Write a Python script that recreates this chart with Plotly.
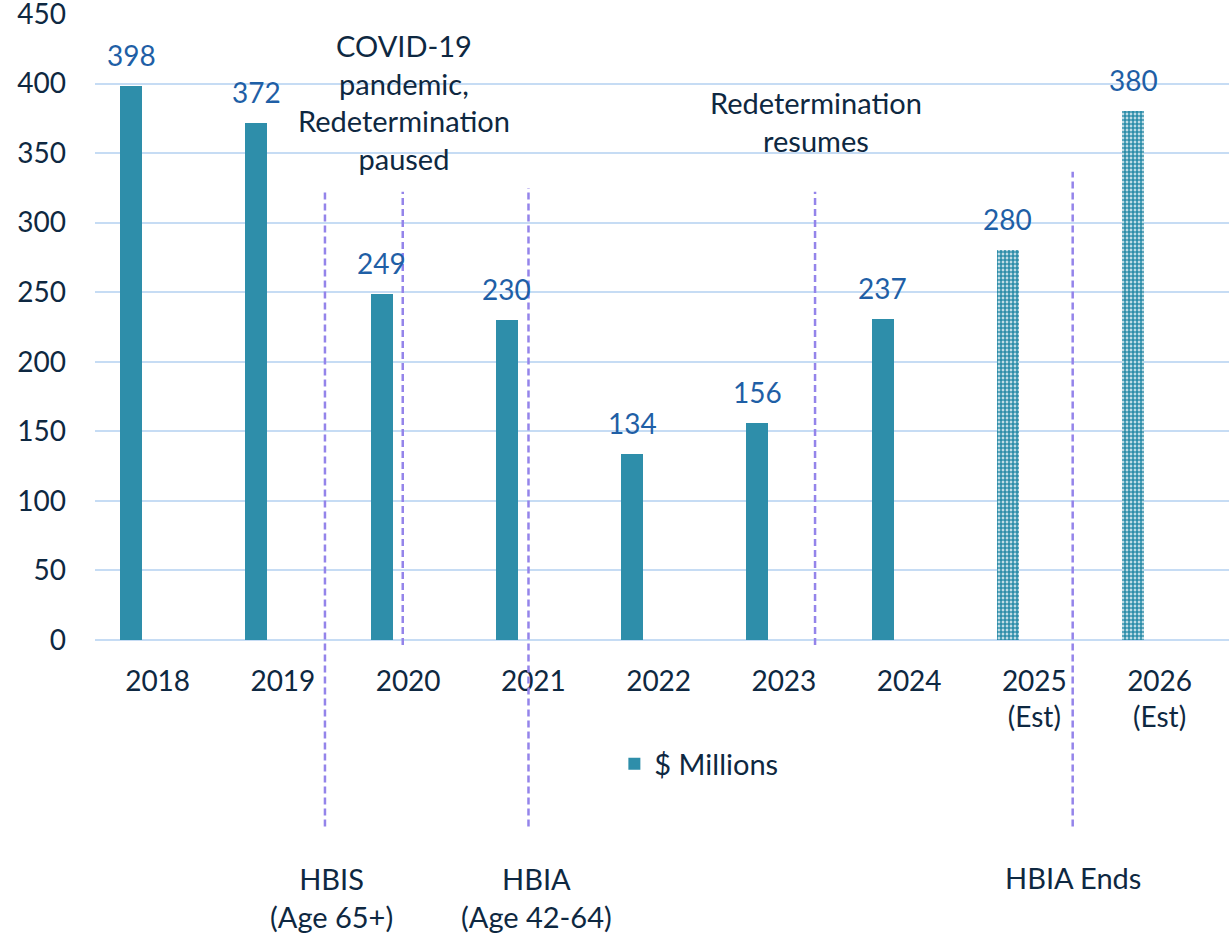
import plotly.graph_objects as go

# ---- data ----
categories = ["2018", "2019", "2020", "2021", "2022", "2023", "2024", "2025<br>(Est)", "2026<br>(Est)"]
values = [398, 372, 249, 230, 134, 156, 231, 280, 380]
value_labels = ["398", "372", "249", "230", "134", "156", "237", "280", "380"]
estimate_flags = [False, False, False, False, False, False, False, True, True]
series_name = "$ Millions"
y_ticks = [0, 50, 100, 150, 200, 250, 300, 350, 400, 450]

# event markers: (category position, top (paper), bottom (paper))
event_lines = [
    (1.336, 0.716, -0.298),
    (1.957, 0.716, -0.008),
    (2.961, 0.722, -0.298),
    (5.249, 0.716, -0.008),
    (7.306, 0.748, -0.298),
]
top_notes = [
    (1.967, 0.859, "COVID-19<br>pandemic,<br>Redetermination<br>paused"),
    (5.256, 0.828, "Redetermination<br>resumes"),
]
bottom_notes = [
    (1.39, -0.411, "HBIS<br>(Age 65+)"),
    (3.021, -0.411, "HBIA<br>(Age 42-64)"),
    (7.306, -0.380, "HBIA Ends"),
]

FONT = "Lato"
TEXT = "#0E2841"
LABEL = "#1F5FA6"
BAR = "#2E8EAA"
GRID = "#C6DCF4"
DASH = "#9484EA"

BAR_W = 0.176
BAR_OFF = -0.300

fig = go.Figure()
fig.add_trace(go.Bar(
    x=list(range(len(categories))),
    y=values,
    name=series_name,
    width=BAR_W,
    offset=BAR_OFF,
    marker=dict(
        color=BAR,
        line=dict(width=0),
        pattern=dict(
            shape=["." if f else "" for f in estimate_flags],
            fgcolor=BAR,
            bgcolor="white",
            size=4,
            solidity=0.75,
            fillmode="replace",
        ),
    ),
    showlegend=True,
))

annotations = []
for i, (v, t) in enumerate(zip(values, value_labels)):
    annotations.append(dict(
        x=i + BAR_OFF + BAR_W / 2, y=v, xref="x", yref="y",
        text=t, showarrow=False, yanchor="bottom", yshift=12,
        font=dict(family=FONT, size=28, color=LABEL),
    ))
for x, y, t in top_notes + bottom_notes:
    annotations.append(dict(
        x=x, y=y, xref="x", yref="paper", text=t, showarrow=False,
        xanchor="center", yanchor="middle",
        font=dict(family=FONT, size=29, color=TEXT),
    ))

shapes = []
for x, top, bot in event_lines:
    shapes.append(dict(
        type="line", xref="x", yref="paper", x0=x, x1=x, y0=bot, y1=top,
        line=dict(color=DASH, width=2.5, dash="7px,4px"),
    ))

fig.update_layout(
    width=1229, height=937,
    margin=dict(l=95, r=0, t=14, b=297),
    paper_bgcolor="white", plot_bgcolor="white",
    font=dict(family=FONT, size=28, color=TEXT),
    bargap=0,
    annotations=annotations,
    shapes=shapes,
    showlegend=True,
    legend=dict(
        orientation="h", x=0.458, xanchor="left", y=-0.198, yanchor="middle",
        font=dict(family=FONT, size=29, color=TEXT),
        bgcolor="rgba(0,0,0,0)",
    ),
    xaxis=dict(
        tickmode="array",
        tickvals=list(range(len(categories))),
        ticktext=categories,
        range=[-0.5, 8.554],
        showgrid=False, zeroline=False, showline=False,
        ticks="", ticklabelstandoff=22,
        tickfont=dict(family=FONT, size=28, color=TEXT),
    ),
    yaxis=dict(
        range=[0, 450],
        tickmode="array", tickvals=y_ticks,
        showgrid=True, gridcolor=GRID, gridwidth=1.5,
        zeroline=True, zerolinecolor=GRID, zerolinewidth=1.5,
        showline=False, ticks="", ticklabelstandoff=28,
        ticklabeloverflow="allow",
        automargin=False,
        tickfont=dict(family=FONT, size=28, color=TEXT),
    ),
)

fig.write_html(
    "out.html",
    config={"displayModeBar": False},
    post_script="document.body.style.margin='0';document.body.style.overflow='hidden';",
)
